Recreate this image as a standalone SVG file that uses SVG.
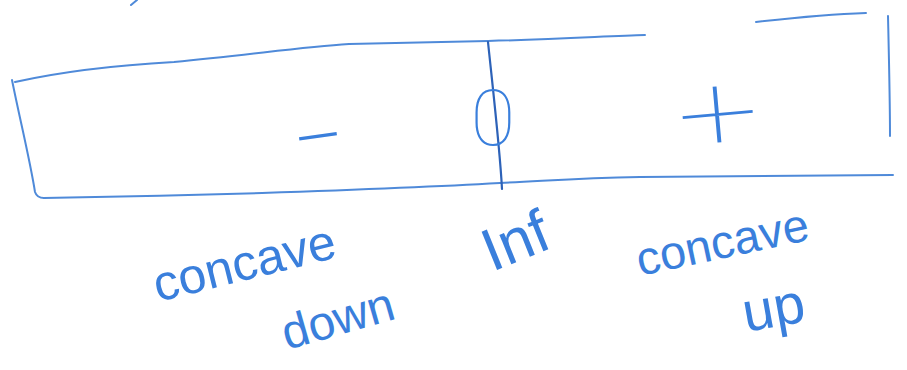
<svg xmlns="http://www.w3.org/2000/svg" width="907" height="370" viewBox="0 0 907 370">
<style>
.ln{fill:none;stroke:#4f8ad9;stroke-width:2;stroke-linecap:round;stroke-linejoin:round}
.dk{fill:none;stroke:#2d62b8;stroke-width:2.2;stroke-linecap:round}
.t{font-family:"Liberation Sans",Arial,sans-serif;fill:#3a7fdc}
.s{font-family:Roboto,"DejaVu Sans",sans-serif;font-weight:100;fill:#3a7fdc}
</style>
<rect width="907" height="370" fill="#ffffff"/>
<g id="chart">
<path class="ln" d="M131,5 L137,0"/>
<path class="ln" d="M15,82 C60,72 120,65 174,62 C250,55 300,47 349,44 L488,41 C560,39 610,36 645,35"/>
<path class="ln" d="M756,22 C800,17 835,14 866,13"/>
<path class="ln" d="M888,16 C889,60 890,100 890,136"/>
<path class="ln" d="M12,80 C20,120 30,160 35,192 Q37,198 44,198"/>
<path class="ln" d="M44,198 C100,197 200,195 262,193 C350,190 430,187 500,183 C560,180 580,178 640,177 C720,176 800,176 893,175"/>
<path class="dk" d="M488,42 C493,90 500,150 502,189"/>
</g>
<g id="signs">
<text class="t" x="0" y="0" font-size="60" transform="translate(320,151) rotate(-8) scale(1.3,0.75)" text-anchor="middle">−</text>
<text class="s" x="0" y="0" font-size="78" transform="translate(493,145) scale(1.05,1)" text-anchor="middle">0</text>
<text class="s" x="0" y="0" font-size="120" transform="translate(721,150) rotate(-5) scale(1.2,0.9)" text-anchor="middle">+</text>
</g>
<g id="labels">
<text class="t" font-size="50" transform="translate(158,302) rotate(-14)">concave</text>
<text class="t" font-size="48" transform="translate(287,350) rotate(-16)">down</text>
<text class="t" font-size="60" transform="translate(492,272) rotate(-22)">Inf</text>
<text class="t" font-size="47" transform="translate(640,276) rotate(-12)">concave</text>
<text class="t" font-size="56" transform="translate(746,332) rotate(-10)">up</text>
</g>
</svg>
